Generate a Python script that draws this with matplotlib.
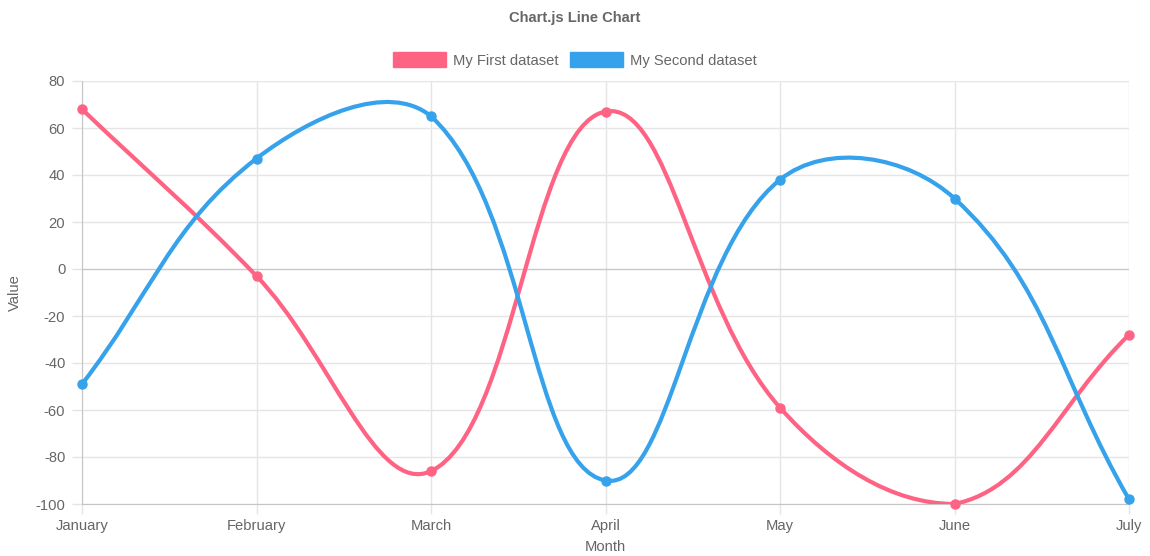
import numpy as np
import matplotlib
matplotlib.use("Agg")
import matplotlib.pyplot as plt
from matplotlib.path import Path
from matplotlib.patches import PathPatch, Patch

months = ["January", "February", "March", "April", "May", "June", "July"]
first_dataset = [68, -3, -86, 67, -59, -100, -28]
second_dataset = [-49, 47, 65, -90, 38, 30, -98]
y_ticks = [80, 60, 40, 20, 0, -20, -40, -60, -80, -100]

PINK = "#ff6384"
BLUE = "#36a2eb"
TEXT = "#666666"
GRID = "#e5e5e5"
TENSION = 0.4

plt.rcParams["font.family"] = ["Liberation Sans", "DejaVu Sans"]

W, H = 1150, 556
fig = plt.figure(figsize=(W / 100, H / 100), dpi=100)
ax = fig.add_axes([82 / W, 1 - 504 / H, (1129 - 82) / W, (504 - 81) / H])
ax.set_xlim(0, len(months) - 1)
ax.set_ylim(-100, 80)


def spline_path(xs, ys):
    """Bezier path through the points, control points built in display space
    and kept inside the plot area."""
    pts = ax.transData.transform(np.column_stack([xs, ys]))
    lo = ax.transData.transform([0, -100])
    hi = ax.transData.transform([len(months) - 1, 80])
    n = len(pts)
    cp_prev, cp_next = [], []
    for i in range(n):
        cur = pts[i]
        prev = pts[i - 1] if i > 0 else cur
        nxt = pts[i + 1] if i < n - 1 else cur
        d01 = np.hypot(*(cur - prev))
        d12 = np.hypot(*(nxt - cur))
        tot = d01 + d12
        s01 = d01 / tot if tot else 0
        s12 = d12 / tot if tot else 0
        cp_prev.append(np.clip(cur - TENSION * s01 * (nxt - prev), lo, hi))
        cp_next.append(np.clip(cur + TENSION * s12 * (nxt - prev), lo, hi))
    inv = ax.transData.inverted()
    verts = [pts[0]]
    codes = [Path.MOVETO]
    for i in range(n - 1):
        verts += [cp_next[i], cp_prev[i + 1], pts[i + 1]]
        codes += [Path.CURVE4] * 3
    return Path(inv.transform(np.array(verts)), codes)


x = np.arange(len(months))

# grid
for xv in x:
    ax.axvline(xv, color=GRID, lw=1, zorder=0)
for yv in y_ticks:
    ax.axhline(yv, color="#c8c8c8" if yv == 0 else GRID, lw=1, zorder=0)

for vals, col, z in [(first_dataset, PINK, 3), (second_dataset, BLUE, 4)]:
    ax.add_patch(PathPatch(spline_path(x, vals), facecolor="none", edgecolor=col,
                           lw=3, capstyle="round", joinstyle="round", zorder=z))
    ax.plot(x, vals, "o", color=col, ms=6.5, zorder=z + 0.5, clip_on=False)

for s in ["top", "right"]:
    ax.spines[s].set_visible(False)
ax.spines["left"].set_color("#c4c4c4")
ax.spines["bottom"].set_color("#c4c4c4")

ax.set_xticks(x)
ax.set_xticklabels(months)
ax.set_yticks(y_ticks)
ax.set_yticklabels([str(v) for v in y_ticks])
ax.tick_params(axis="both", colors=GRID, labelcolor=TEXT, labelsize=10.6,
               length=7, width=1)
ax.tick_params(axis="y", pad=5)
ax.tick_params(axis="x", pad=4)

ax.set_ylabel("Value", color=TEXT, fontsize=10.6, labelpad=10)
fig.text(605 / W, 1 - 547 / H, "Month", color=TEXT, fontsize=10.6,
         ha="center", va="center")

fig.text(0.5, 1 - 18 / H, "Chart.js Line Chart", color=TEXT, fontsize=10.6,
         fontweight="bold", ha="center", va="center")

handles = [Patch(facecolor=PINK, edgecolor=PINK), Patch(facecolor=BLUE, edgecolor=BLUE)]
leg = fig.legend(handles, ["My First dataset", "My Second dataset"],
                 loc="center", bbox_to_anchor=(0.5, 1 - 60 / H), ncol=2,
                 frameon=False, fontsize=10.6, handlelength=3.6, handleheight=1.2,
                 handletextpad=0.45, columnspacing=0.8, labelcolor=TEXT)

fig.savefig("out.png", dpi=100)
